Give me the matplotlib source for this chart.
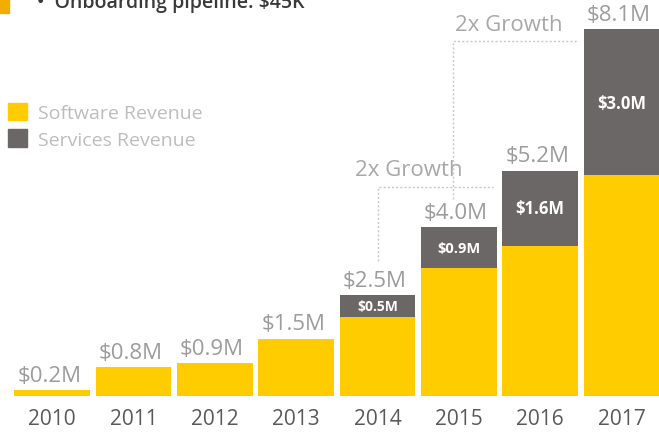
import numpy as np
import matplotlib.pyplot as plt
from matplotlib.patches import Patch, Rectangle

# values (in $M)
years = ['2010', '2011', '2012', '2013', '2014', '2015', '2016', '2017']
totals = [0.2, 0.8, 0.9, 1.5, 2.5, 4.0, 5.2, 8.1]
services = [0, 0, 0, 0, 0.5, 0.9, 1.6, 3.0]
software = [t - s for t, s in zip(totals, services)]

yellow = '#FFCC00'
gray = '#6B6766'

plt.rcParams['font.family'] = ['Open Sans', 'DejaVu Sans']

fig = plt.figure(figsize=(6.59, 4.35), dpi=100)
ax = fig.add_axes([0, 38 / 435, 1, 397 / 435])

x = np.arange(len(years))
ax.bar(x, software, width=0.93, color=yellow)
ax.bar(x, services, width=0.93, bottom=software, color=gray)

# the slide's bars grow a bit faster than linear
ax.set_yscale('function', functions=(lambda v: np.power(np.clip(v, 0, None), 1.1),
                                     lambda v: np.power(np.clip(v, 0, None), 1 / 1.1)))
ax.set_ylim(0, 8.7)
ax.set_xlim(-0.64, 7.46)

# total labels
for i, t in enumerate(totals):
    ax.annotate(f'${t:.1f}M', (i, t), xytext=(-2, 3), textcoords='offset points',
                ha='center', va='bottom', fontsize=16, color='#9C9C9C')

# service labels inside the gray part
svc_sizes = [10, 10.5, 12, 12]
for k, i in enumerate(range(4, 8)):
    mid = software[i] + services[i] / 2
    ax.text(i, mid, f'${services[i]:.1f}M', ha='center', va='center',
            fontsize=svc_sizes[k], color='white', fontweight='bold')

# growth brackets
dot = dict(color='#C8C8C8', lw=1, ls=(0, (1.5, 1.5)))
ax.plot([4.0, 4.0, 5.42], [3.26, 4.85, 4.85], **dot)
ax.plot([4.93, 4.93, 6.47], [4.6, 7.86, 7.86], **dot)
ax.text(4.38, 5.0, '2x Growth', ha='center', va='bottom', fontsize=16, color='#A8A8A8')
ax.text(5.62, 7.98, '2x Growth', ha='center', va='bottom', fontsize=16, color='#A8A8A8')

ax.set_xticks(x, years)
ax.tick_params(axis='x', length=0, pad=9, labelsize=15, labelcolor='#595959')
ax.set_yticks([])
for s in ax.spines.values():
    s.set_visible(False)

handles = [Patch(color=yellow, label='Software Revenue'),
           Patch(color=gray, label='Services Revenue')]
fig.legend(handles=handles, loc='upper left', bbox_to_anchor=(8 / 659, 1 - 104 / 435),
           frameon=False, fontsize=14, labelcolor='#BDBDBD', handlelength=1.0,
           handleheight=1.0, handletextpad=0.55, labelspacing=0.35, borderpad=0,
           borderaxespad=0)

# remains of the slide text above the chart
fig.patches.append(Rectangle((0, 1 - 14 / 435), 9 / 659, 14 / 435,
                             transform=fig.transFigure, color='#F2AE00'))
fig.text(37 / 659, 1 - 8 / 435, '\u2022  Onboarding pipeline: $45K', va='baseline',
         fontsize=14, fontweight='semibold', color='#3A3A3A')

fig.savefig('out.png', dpi=100)
